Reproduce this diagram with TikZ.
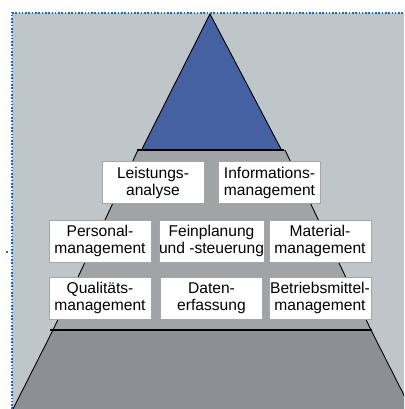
\documentclass[tikz,border=0pt]{standalone}
\usepackage{fontspec}
\setmainfont{Liberation Sans}
\definecolor{bgcol}{HTML}{BEC6C9}
\definecolor{midcol}{HTML}{A1A4A6}
\definecolor{botcol}{HTML}{8C9093}
\definecolor{topcol}{HTML}{4561A2}
\definecolor{boxline}{HTML}{A6A6A6}
\definecolor{dotblue}{HTML}{1A6BC4}
\tikzset{
  box/.style={draw=boxline, line width=0.8pt, fill=white, minimum width=102pt,
    minimum height=42pt, inner sep=0pt, align=center,
    font=\fontsize{15.6}{17}\selectfont},
  edge/.style={draw=black, line width=0.9pt, line join=round},
  thickline/.style={draw=black, line width=1.6pt}
}
\begin{document}
\begin{tikzpicture}[x=1pt,y=-1pt]
\useasboundingbox (0,0) rectangle (404,409);
\clip (0,0) rectangle (404,409);
% background
\fill[bgcol] (12,13) rectangle (404,409);
% bottom trapezoid
\path[fill=botcol] (53,330) -- (371,330) -- (411,409) -- (13,409) -- cycle;
\draw[edge] (53,330) -- (13,409);
\draw[edge] (371,330) -- (411,409);
% middle trapezoid
\path[fill=midcol] (138,150) -- (285,150) -- (371,330) -- (53,330) -- cycle;
\draw[edge] (138,150) -- (53,330);
\draw[edge] (285,150) -- (371,330);
% top triangle
\draw[edge, fill=topcol] (210,14) -- (281.5,150) -- (141.5,150) -- cycle;
\coordinate (tl) at (137,150);
\coordinate (tr) at (284,150);
\coordinate (bl) at (50,330);
\coordinate (br) at (372,330);
\draw[thickline] (tl) -- (tr);
\draw[thickline] (bl) -- (br);
% boxes
\node[box] (la) at (153,182.5) {Leistungs-\\analyse};
\node[box] (im) at (269.5,182.5) {Informations-\\management};
\node[box] (pm) at (100,241) {Personal-\\management};
\node[box] (fs) at (211.5,241) {Feinplanung\\und -steuerung};
\node[box] (mm) at (320,241) {Material-\\management};
\node[box] (qm) at (100,298) {Qualitäts-\\management};
\node[box] (de) at (211.5,298) {Daten-\\erfassung};
\node[box] (bm) at (320,298) {Betriebsmittel-\\management};
% dotted frame
\draw[dotblue, line width=1.6pt, dash pattern=on 1.6pt off 1.7pt] (12,409) -- (12,13) -- (404,13);
\fill[dotblue] (6.2,251.2) rectangle (7.8,252.8);
\end{tikzpicture}
\end{document}
